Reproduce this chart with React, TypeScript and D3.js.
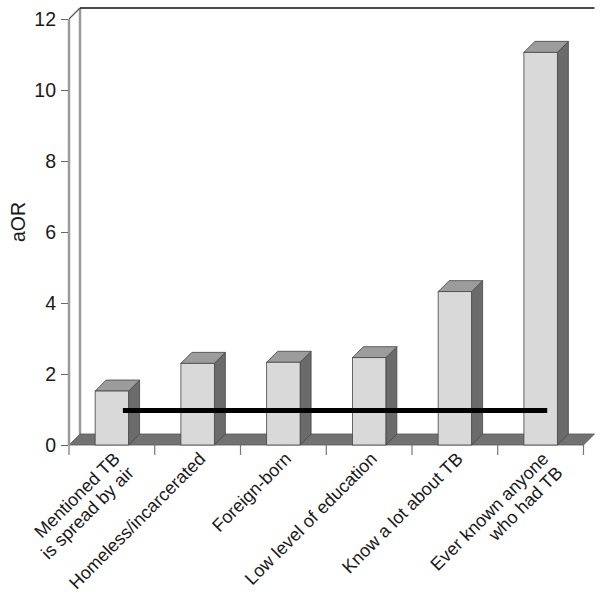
import React, { useEffect, useRef } from "react";
import * as d3 from "d3";

// categories, two-line labels split on \n
const categories = [
  "Mentioned TB\nis spread by air",
  "Homeless/incarcerated",
  "Foreign-born",
  "Low level of education",
  "Know a lot about TB",
  "Ever known anyone\nwho had TB",
];
const aorValues = [1.52, 2.3, 2.33, 2.46, 4.32, 11.06];
const yTicks = [0, 2, 4, 6, 8, 10, 12];
const referenceValue = 1;

export default function App() {
  const ref = useRef<SVGSVGElement>(null);

  useEffect(() => {
    var svgWidth = 604, svgHeight = 594;
    var left = 69, right = 583.5, top = 19, bottom = 445;
    var depth = 11;
    var font = "'Liberation Sans', Arial, sans-serif";

    var svg = d3.select(ref.current)
      .attr("width", svgWidth)
      .attr("height", svgHeight);
    svg.selectAll("*").remove();

    var xScale = d3.scaleBand<string>()
      .domain(categories)
      .range([left, right])
      .padding(0);

    var yScale = d3.scaleLinear()
      .domain([0, 12])
      .range([bottom, top]);

    var barW = xScale.bandwidth() * 0.39;

    // back wall edges
    svg.append("line")
      .attr("x1", left + depth).attr("y1", top - depth)
      .attr("x2", left + depth).attr("y2", bottom - depth)
      .attr("stroke", "#9a9a9a").attr("stroke-width", 2.5);
    svg.append("line")
      .attr("x1", left + depth).attr("y1", top - depth)
      .attr("x2", right + depth).attr("y2", top - depth)
      .attr("stroke", "#111").attr("stroke-width", 1.6);
    svg.append("line")
      .attr("x1", left).attr("y1", top)
      .attr("x2", left + depth).attr("y2", top - depth)
      .attr("stroke", "#555").attr("stroke-width", 1.2);

    // floor
    svg.append("path")
      .attr("d", `M${left},${bottom}L${right},${bottom}L${right + depth},${bottom - depth}L${left + depth},${bottom - depth}Z`)
      .attr("fill", "#727272")
      .attr("stroke", "#555")
      .attr("stroke-width", 0.8);

    // bars
    var bars = svg.append("g");
    categories.forEach((c, i) => {
      var cx = (xScale(c) as number) + xScale.bandwidth() / 2;
      var x0 = cx - barW / 2, x1 = cx + barW / 2;
      var y0 = yScale(0), yv = yScale(aorValues[i]);
      // side
      bars.append("path")
        .attr("d", `M${x1},${yv}L${x1 + depth},${yv - depth}L${x1 + depth},${y0 - depth}L${x1},${y0}Z`)
        .attr("fill", "#6b6b6b").attr("stroke", "#444").attr("stroke-width", 0.8);
      // top
      bars.append("path")
        .attr("d", `M${x0},${yv}L${x0 + depth},${yv - depth}L${x1 + depth},${yv - depth}L${x1},${yv}Z`)
        .attr("fill", "#9c9c9c").attr("stroke", "#444").attr("stroke-width", 0.8);
      // front
      bars.append("rect")
        .attr("x", x0).attr("y", yv)
        .attr("width", barW).attr("height", y0 - yv)
        .attr("fill", "#d9d9d9").attr("stroke", "#444").attr("stroke-width", 0.8);
    });

    // reference line at aOR = 1
    var firstC = (xScale(categories[0]) as number) + xScale.bandwidth() / 2;
    var lastC = (xScale(categories[categories.length - 1]) as number) + xScale.bandwidth() / 2;
    svg.append("line")
      .attr("x1", firstC + depth).attr("x2", lastC + depth * 0.6)
      .attr("y1", yScale(referenceValue) + 1).attr("y2", yScale(referenceValue) + 1)
      .attr("stroke", "#000").attr("stroke-width", 5);

    // y axis
    var y_axis = d3.axisLeft(yScale).tickValues(yTicks).tickSize(7).tickPadding(5);
    var gy = svg.append("g")
      .attr("transform", `translate(${left - 1}, 0)`)
      .call(y_axis);
    gy.select(".domain").remove();
    gy.selectAll("line").attr("stroke", "#666");
    gy.selectAll("text")
      .attr("font-family", font).attr("font-size", 19.5).attr("fill", "#1a1a1a");

    svg.append("line")
      .attr("x1", left).attr("y1", top)
      .attr("x2", left).attr("y2", bottom)
      .attr("stroke", "#9a9a9a").attr("stroke-width", 2.5);

    // x boundary ticks
    var bounds = [left].concat(categories.map(c => (xScale(c) as number) + xScale.bandwidth()));
    svg.append("g").selectAll("line")
      .data(bounds)
      .join("line")
      .attr("x1", d => d).attr("x2", d => d)
      .attr("y1", bottom).attr("y2", bottom + 10)
      .attr("stroke", "#777").attr("stroke-width", 1.2);

    // category labels
    categories.forEach(c => {
      var cx = (xScale(c) as number) + xScale.bandwidth() / 2;
      var t = svg.append("text")
        .attr("transform", `translate(${cx + 9}, ${bottom + 15}) rotate(-45)`)
        .attr("text-anchor", "end")
        .attr("font-family", font)
        .attr("font-size", 18)
        .attr("fill", "#1a1a1a");
      c.split("\n").forEach((line, k) => {
        t.append("tspan").attr("x", 0).attr("dy", k === 0 ? 0 : "1.1em").text(line);
      });
    });

    // y axis title
    svg.append("text")
      .attr("transform", `translate(25, ${(top + bottom) / 2 - 10}) rotate(-90)`)
      .attr("text-anchor", "middle")
      .attr("font-family", font)
      .attr("font-size", 19.5)
      .attr("fill", "#1a1a1a")
      .text("aOR");
  }, []);

  return (
    <svg ref={ref} style={{ position: "absolute", left: 0, top: 0, background: "#fff" }}></svg>
  );
}
